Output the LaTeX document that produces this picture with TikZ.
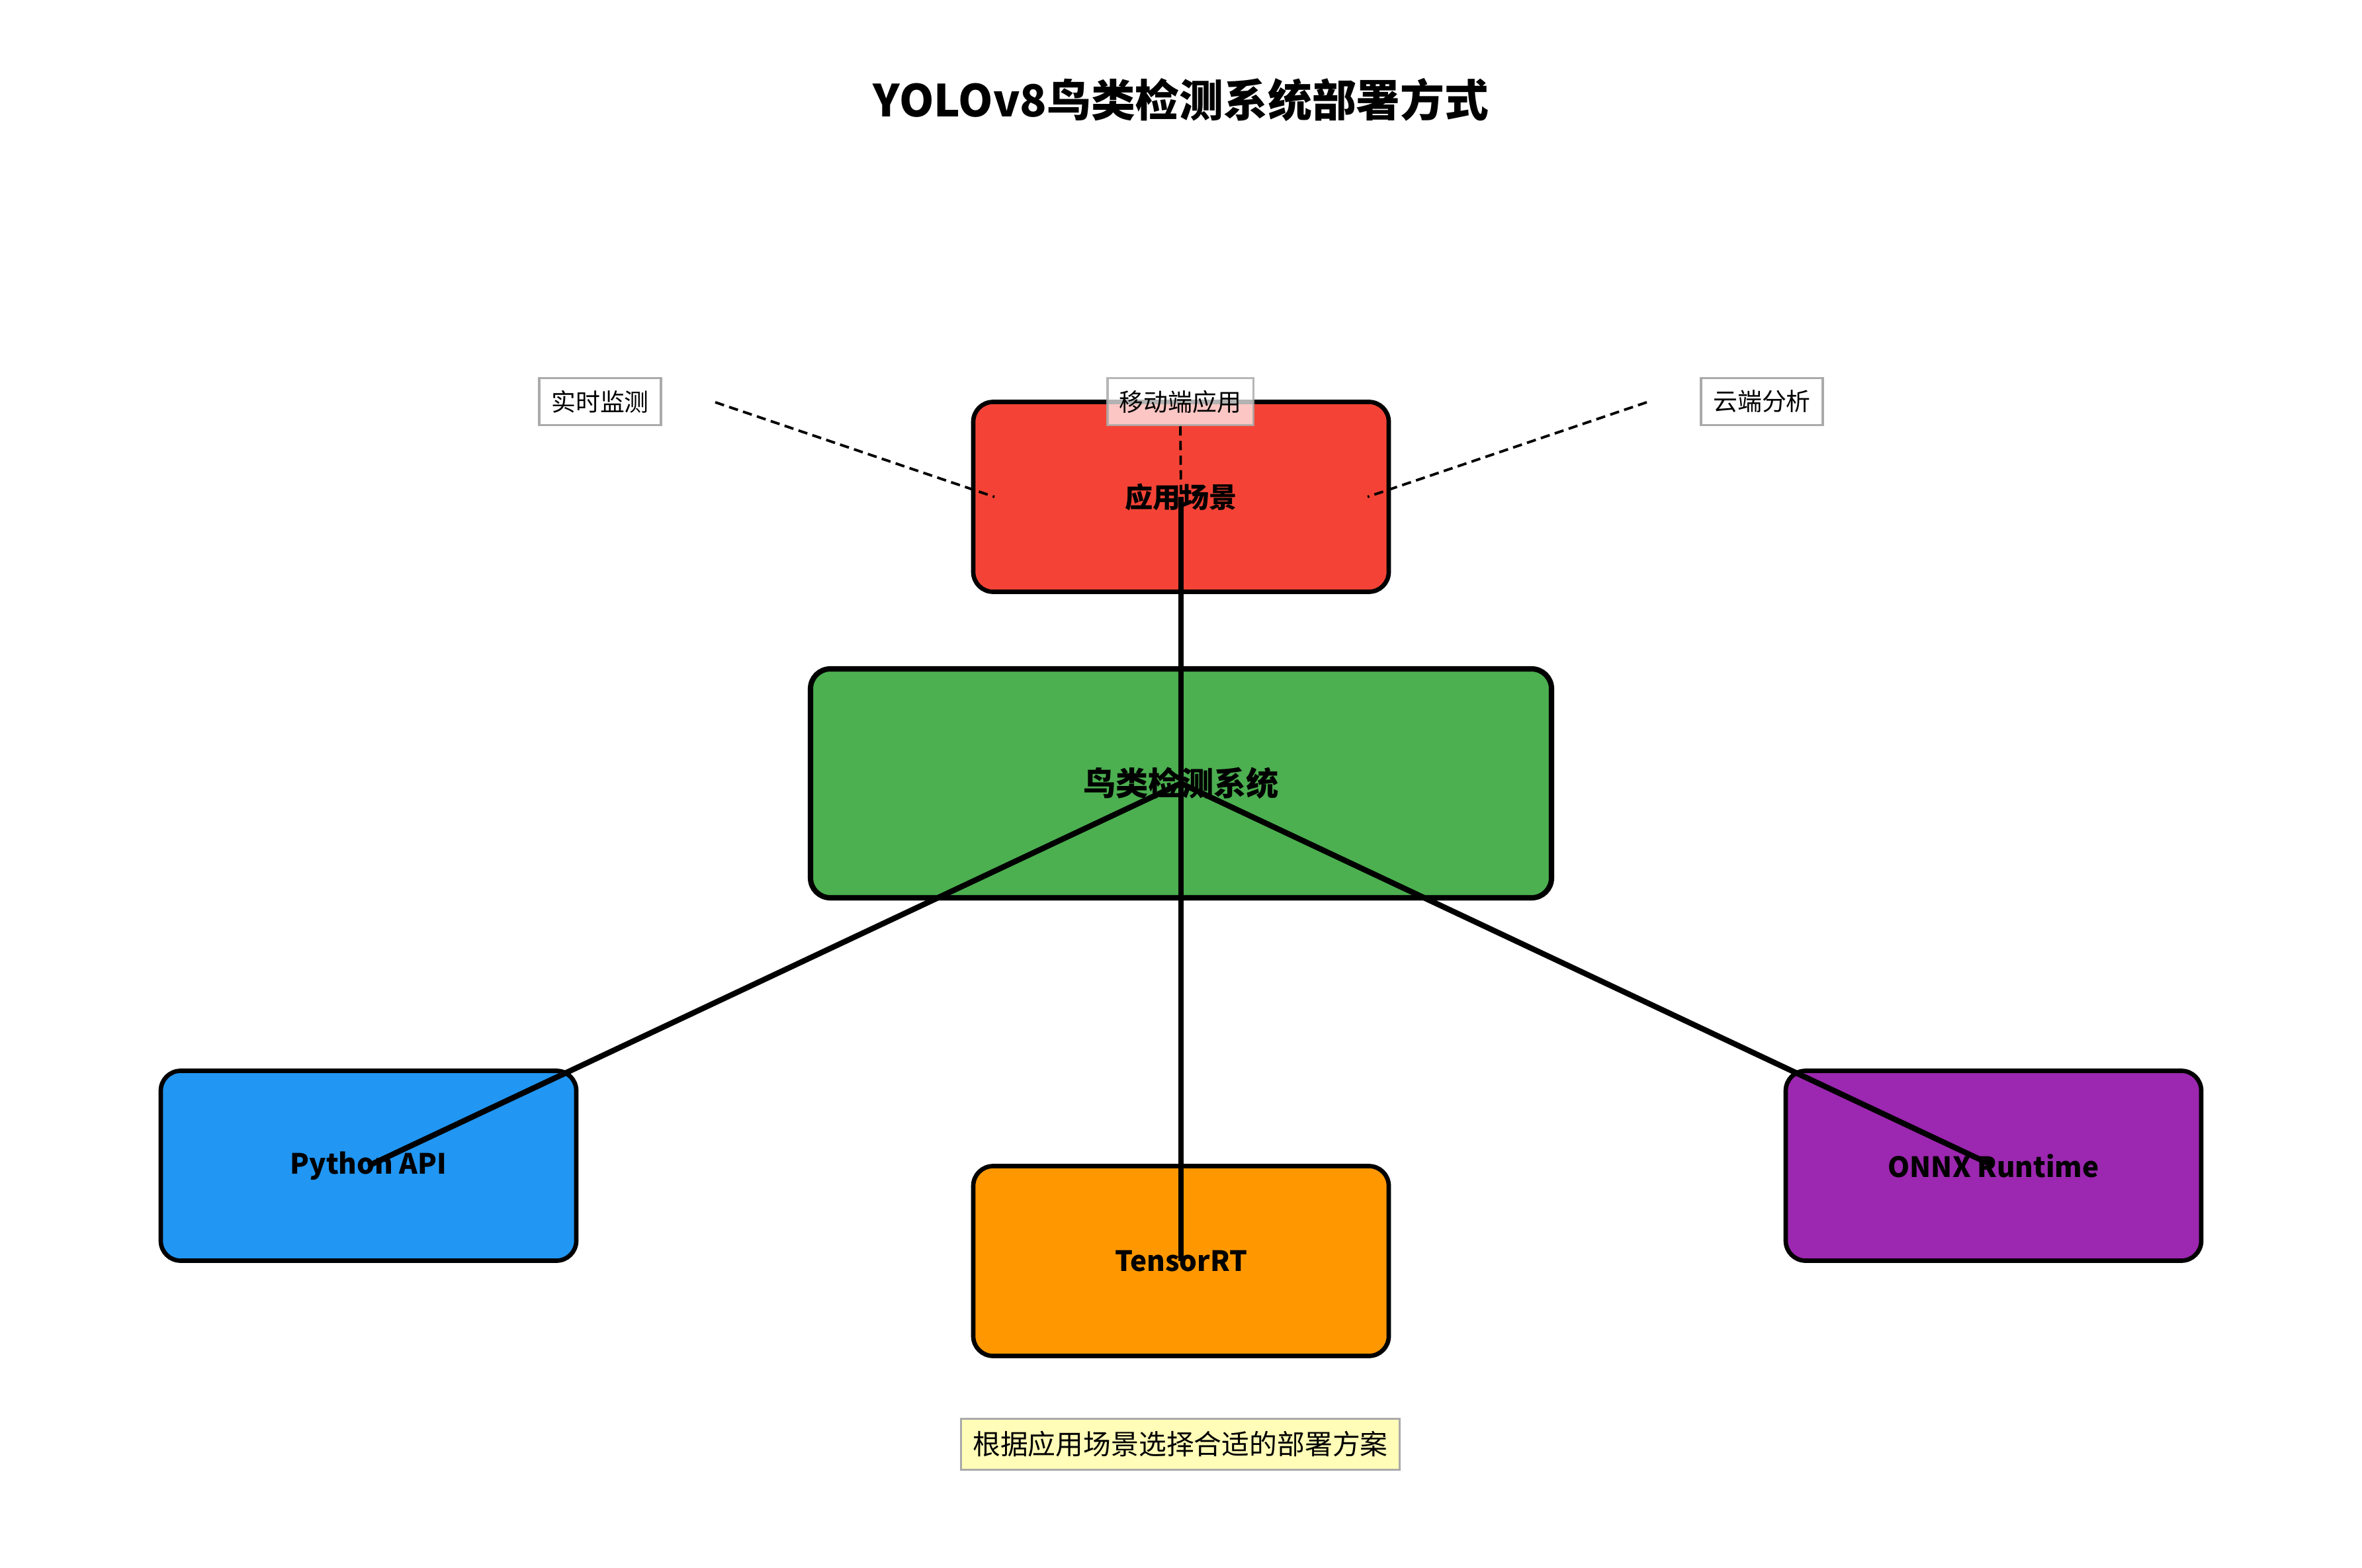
\documentclass[tikz,border=0pt]{standalone}
\usepackage{fontspec}
\setmainfont{Noto Sans CJK SC}
\definecolor{cred}{HTML}{F44336}
\definecolor{cgreen}{HTML}{4CAF50}
\definecolor{cblue}{HTML}{2196F3}
\definecolor{corange}{HTML}{FF9800}
\definecolor{cpurple}{HTML}{9C27B0}
\definecolor{tagGray}{HTML}{AAAAAA}
\definecolor{cnote}{HTML}{FFFDB8}
\tikzset{
  box/.style={draw=black, line width=1.9pt, rounded corners=0.3cm, minimum width=6.28cm, minimum height=2.87cm, inner sep=0pt, font=\fontsize{12}{14}\selectfont\bfseries},
  tag/.style={draw=tagGray, line width=1pt, fill=white, inner xsep=0.18cm, inner ysep=0pt, minimum height=0.71cm, font=\fontsize{10.5}{12}\selectfont},
  link/.style={line width=2.4pt},
  hint/.style={line width=1.1pt, dash pattern=on 4pt off 2.3pt}
}
\begin{document}
\begin{tikzpicture}
\useasboundingbox (0,0) rectangle (35.7,-23.7);
\node[font=\fontsize{19}{23}\selectfont\bfseries] (title) at (17.85,-1.51) {YOLOv8鸟类检测系统部署方式};

\node[box, fill=cred] (app) at (17.85,-7.51) {应用场景};
\node[box, fill=cgreen, minimum width=11.2cm, minimum height=3.46cm, line width=2.3pt, font=\fontsize{14}{16}\selectfont\bfseries] (sys) at (17.85,-11.84) {鸟类检测系统};
\node[box, fill=cblue] (py) at (5.57,-17.62) {Python API};
\node[box, fill=corange] (trt) at (17.85,-19.06) {TensorRT};
\node[box, fill=cpurple] (onnx) at (30.13,-17.62) {ONNX Runtime};

\draw[link] (app.center) -- (sys.center);
\draw[link] (sys.center) -- (trt.center);
\draw[link] (sys.center) -- (py.center);
\draw[link] (sys.center) -- (onnx.center);

\node[tag] (rt) at (9.07,-6.07) {实时监测};
\node[tag, fill opacity=0.7, draw opacity=0.85, text opacity=1] (mob) at (17.84,-6.07) {移动端应用};
\node[tag] (cloud) at (26.63,-6.07) {云端分析};

\coordinate (l1) at (10.81,-6.08);
\coordinate (l2) at (15.03,-7.51);
\coordinate (r1) at (24.89,-6.08);
\coordinate (r2) at (20.67,-7.51);
\draw[hint] (l1) -- (l2);
\draw[hint] (r1) -- (r2);
\draw[hint] (mob.south) -- (app.center);

\node[tag, fill=cnote, minimum height=0.77cm, font=\fontsize{11.9}{14}\selectfont] (note) at (17.84,-21.83) {根据应用场景选择合适的部署方案};
\end{tikzpicture}
\end{document}
